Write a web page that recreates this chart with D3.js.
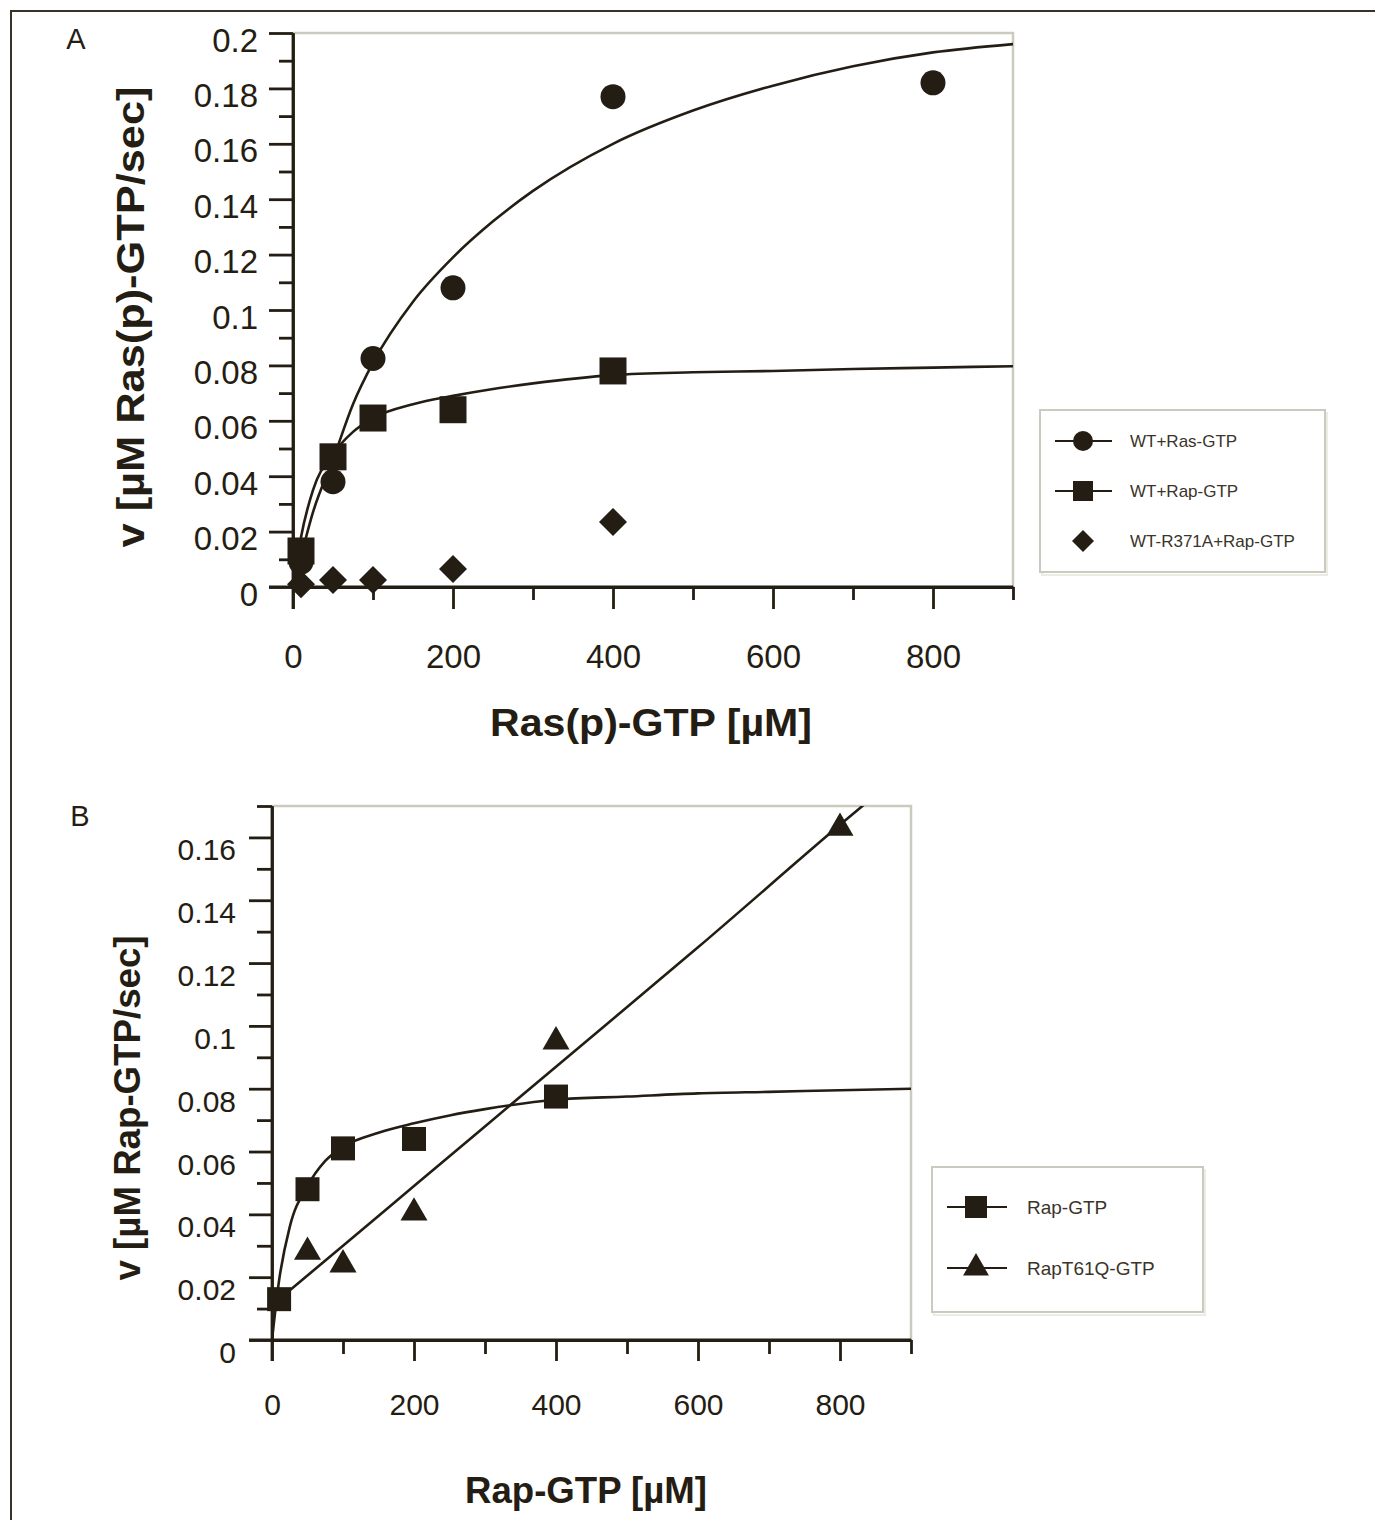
<!DOCTYPE html>
<html>
<head>
<meta charset="utf-8">
<script src="https://cdn.jsdelivr.net/npm/d3@7"></script>
<style>
  body { margin: 0; background: #fff; }
  text { font-family: "Liberation Sans", Arial, sans-serif; fill: #241d13; }
</style>
</head>
<body>
<div id="chart"></div>
<script>
// ---- panel A: Ras(p)-GTP substrate ----
var rasConc = [10, 50, 100, 200, 400, 800];
var wtRas = [0.009, 0.038, 0.0825, 0.108, 0.177, 0.182];
var rapConcA = [10, 50, 100, 200, 400];
var wtRap = [0.013, 0.047, 0.061, 0.064, 0.078];
var r371Conc = [10, 50, 100, 200, 400];
var wtR371A = [0.001, 0.0025, 0.0025, 0.0065, 0.0235];
// fitted curves
var fitXA = [0, 10, 25, 50, 75, 100, 150, 200, 250, 300, 400, 500, 600, 700, 800, 900];
var fitRas = [0, 0.011, 0.027, 0.046, 0.066, 0.081, 0.103, 0.119, 0.132, 0.143, 0.160, 0.172, 0.181, 0.188, 0.193, 0.196];
var fitRapA = [0, 0.018, 0.035, 0.048, 0.056, 0.061, 0.066, 0.069, 0.0715, 0.0735, 0.0765, 0.0775, 0.078, 0.0787, 0.0792, 0.0797];
var xMajorA = [0, 200, 400, 600, 800];
var xMinorA = [100, 300, 500, 700, 900];
var yMajorA = [0, 0.02, 0.04, 0.06, 0.08, 0.1, 0.12, 0.14, 0.16, 0.18, 0.2];
var yMinorA = [0.01, 0.03, 0.05, 0.07, 0.09, 0.11, 0.13, 0.15, 0.17, 0.19];

// ---- panel B: Rap-GTP substrate ----
var rapConcB = [10, 50, 100, 200, 400];
var rapGTP = [0.013, 0.048, 0.061, 0.064, 0.0775];
var t61Conc = [50, 100, 200, 400, 800];
var rapT61Q = [0.028, 0.024, 0.0405, 0.095, 0.163];
var fitXB = [0, 10, 25, 50, 75, 100, 150, 200, 250, 300, 400, 500, 600, 700, 800, 900];
var fitRapB = [0, 0.019, 0.036, 0.049, 0.057, 0.0615, 0.066, 0.069, 0.0715, 0.0735, 0.0765, 0.0775, 0.0785, 0.079, 0.0795, 0.080];
var fitT61X = [10, 100, 200, 400, 600, 800, 900];
var fitT61 = [0.013, 0.030, 0.049, 0.087, 0.125, 0.164, 0.183];
var xMajorB = [0, 200, 400, 600, 800];
var xMinorB = [100, 300, 500, 700, 900];
var yMajorB = [0, 0.02, 0.04, 0.06, 0.08, 0.1, 0.12, 0.14, 0.16];
var yMinorB = [0.01, 0.03, 0.05, 0.07, 0.09, 0.11, 0.13, 0.15, 0.17];

var ink = '#241d13';
var frameGray = '#cacabf';

var svg = d3.select('#chart').append('svg')
  .attr('width', 1375)
  .attr('height', 1520);

// outer figure border (left + top only visible)
svg.append('path')
  .attr('d', 'M11,1520 L11,11 L1375,11')
  .attr('fill', 'none')
  .attr('stroke', '#3a3228')
  .attr('stroke-width', 2);

function fmt(d) {
  return d === 0 ? '0' : String(+d.toFixed(2));
}

function zip(xs, ys) {
  return xs.map(function (x, i) { return [x, ys[i]]; });
}

function drawPanel(p) {
  var x = d3.scaleLinear().domain([0, 900]).range([p.left, p.right]);
  var y = d3.scaleLinear().domain([0, p.ymax]).range([p.bottom, p.top]);
  var g = svg.append('g');

  // light frame top + right
  g.append('path')
    .attr('d', 'M' + x(0) + ',' + y(p.ymax) + ' L' + x(900) + ',' + y(p.ymax) + ' L' + x(900) + ',' + y(0))
    .attr('fill', 'none')
    .attr('stroke', frameGray)
    .attr('stroke-width', 2.5);

  var clipId = 'clip' + p.name;
  svg.append('clipPath').attr('id', clipId)
    .append('rect')
    .attr('x', x(0)).attr('y', y(p.ymax))
    .attr('width', x(900) - x(0)).attr('height', y(0) - y(p.ymax));

  var line = d3.line()
    .x(function (d) { return x(d[0]); })
    .y(function (d) { return y(d[1]); })
    .curve(d3.curveMonotoneX);

  p.curves.forEach(function (c) {
    g.append('path')
      .datum(c)
      .attr('clip-path', 'url(#' + clipId + ')')
      .attr('d', line)
      .attr('fill', 'none')
      .attr('stroke', ink)
      .attr('stroke-width', 2.6);
  });

  // axes: minor ticks then major ticks with labels
  var xMin = g.append('g').attr('transform', 'translate(0,' + y(0) + ')')
    .call(d3.axisBottom(x).tickValues(p.xMinor).tickSize(p.minorLen).tickSizeOuter(0).tickFormat(''));
  var xMaj = g.append('g').attr('transform', 'translate(0,' + y(0) + ')')
    .call(d3.axisBottom(x).tickValues(p.xMajor).tickSize(p.majorLen).tickSizeOuter(0)
      .tickPadding(p.xPad).tickFormat(fmt));
  var yMin = g.append('g').attr('transform', 'translate(' + x(0) + ',0)')
    .call(d3.axisLeft(y).tickValues(p.yMinor).tickSize(p.minorLen + 1).tickSizeOuter(0).tickFormat(''));
  var yMaj = g.append('g').attr('transform', 'translate(' + x(0) + ',0)')
    .call(d3.axisLeft(y).tickValues(p.yMajor).tickSize(p.majorLen + 2).tickSizeOuter(0)
      .tickPadding(p.yPad).tickFormat(fmt));

  [xMin, xMaj, yMin, yMaj].forEach(function (a) {
    a.select('.domain').attr('stroke', ink).attr('stroke-width', 2.8);
    a.selectAll('.tick line').attr('stroke', ink).attr('stroke-width', 2.8);
    a.selectAll('text')
      .attr('fill', ink)
      .style('font-family', '"Liberation Sans", Arial, sans-serif')
      .style('font-size', p.tickFont + 'px');
  });
  // extend x axis to the left to meet the y 0 tick
  xMaj.select('.domain').attr('d', 'M' + (x(0) - p.majorLen - 2) + ',0H' + x(900));
  yMaj.select('.domain').attr('d', 'M0,' + y(p.ymax) + 'V' + (y(0) + p.majorLen));
  xMaj.selectAll('text').attr('dy', '0.71em');
  yMaj.selectAll('text').attr('dy', p.yDy);

  // markers
  p.series.forEach(function (s) {
    var data = zip(s.x, s.y);
    g.selectAll(null).data(data).enter().append('path')
      .attr('transform', function (d) {
        return 'translate(' + x(d[0]) + ',' + y(d[1]) + ')' + (s.rot ? ' rotate(45)' : '');
      })
      .attr('d', d3.symbol().type(s.type).size(s.size))
      .attr('fill', ink);
  });

  // axis titles
  g.append('text')
    .attr('x', p.xTitle[0]).attr('y', p.xTitle[1])
    .attr('text-anchor', 'middle')
    .attr('textLength', p.xTitle[2]).attr('lengthAdjust', 'spacingAndGlyphs')
    .style('font-weight', 'bold').style('font-size', p.xTitle[3] + 'px')
    .text(p.xLabel);
  g.append('text')
    .attr('transform', 'translate(' + p.yTitle[0] + ',' + p.yTitle[1] + ') rotate(-90)')
    .attr('text-anchor', 'middle')
    .attr('textLength', p.yTitle[2]).attr('lengthAdjust', 'spacingAndGlyphs')
    .style('font-weight', 'bold').style('font-size', p.yTitle[3] + 'px')
    .text(p.yLabel);

  // panel letter
  g.append('text')
    .attr('x', p.letter[0]).attr('y', p.letter[1])
    .attr('text-anchor', 'middle')
    .style('font-size', '29px')
    .text(p.name);

  // legend
  var L = p.legend;
  g.append('rect')
    .attr('x', L.x + 2).attr('y', L.y + 3).attr('width', L.w).attr('height', L.h)
    .attr('fill', 'none').attr('stroke', '#ecece4').attr('stroke-width', 2);
  g.append('rect')
    .attr('x', L.x).attr('y', L.y).attr('width', L.w).attr('height', L.h)
    .attr('fill', '#fff').attr('stroke', frameGray).attr('stroke-width', 2);
  L.items.forEach(function (it, i) {
    var cy = L.y + L.first + i * L.step;
    if (it.line) {
      g.append('line')
        .attr('x1', L.x + L.lineX[0]).attr('x2', L.x + L.lineX[1])
        .attr('y1', cy).attr('y2', cy)
        .attr('stroke', ink).attr('stroke-width', 2.2);
    }
    g.append('path')
      .attr('transform', 'translate(' + (L.x + L.markX) + ',' + cy + ')' + (it.rot ? ' rotate(45)' : ''))
      .attr('d', d3.symbol().type(it.type).size(it.size))
      .attr('fill', ink);
    g.append('text')
      .attr('x', L.x + L.textX).attr('y', cy + L.font * 0.36)
      .style('font-size', L.font + 'px')
      .style('fill', '#3a342a')
      .text(it.label);
  });
}

drawPanel({
  name: 'A', left: 293, right: 1013, top: 33, bottom: 587, ymax: 0.2,
  xMajor: xMajorA, xMinor: xMinorA, yMajor: yMajorA, yMinor: yMinorA,
  majorLen: 22, minorLen: 13, xPad: 36, yPad: 11, yDy: '0.55em', tickFont: 33,
  curves: [zip(fitXA, fitRas), zip(fitXA, fitRapA)],
  series: [
    { x: r371Conc, y: wtR371A, type: d3.symbolSquare, size: 392, rot: true },
    { x: rasConc, y: wtRas, type: d3.symbolCircle, size: Math.PI * 12.5 * 12.5 },
    { x: rapConcA, y: wtRap, type: d3.symbolSquare, size: 27 * 27 }
  ],
  xLabel: 'Ras(p)-GTP [\u00b5M]', xTitle: [651, 736, 322, 39],
  yLabel: 'v [\u00b5M Ras(p)-GTP/sec]', yTitle: [144, 317, 461, 38],
  letter: [76, 49],
  legend: {
    x: 1040, y: 410, w: 285, h: 162, first: 31, step: 50, lineX: [15, 72], markX: 43, textX: 90, font: 17,
    items: [
      { label: 'WT+Ras-GTP', type: d3.symbolCircle, size: Math.PI * 100, line: true },
      { label: 'WT+Rap-GTP', type: d3.symbolSquare, size: 400, line: true },
      { label: 'WT-R371A+Rap-GTP', type: d3.symbolSquare, size: 242, rot: true, line: false }
    ]
  }
});

drawPanel({
  name: 'B', left: 272, right: 911, top: 806, bottom: 1340, ymax: 0.17,
  xMajor: xMajorB, xMinor: xMinorB, yMajor: yMajorB, yMinor: yMinorB,
  majorLen: 21, minorLen: 14, xPad: 33, yPad: 13, yDy: '0.75em', tickFont: 30,
  curves: [zip(fitXB, fitRapB), zip(fitT61X, fitT61)],
  series: [
    { x: t61Conc, y: rapT61Q, type: d3.symbolTriangle, size: 316 },
    { x: rapConcB, y: rapGTP, type: d3.symbolSquare, size: 24 * 24 }
  ],
  xLabel: 'Rap-GTP [\u00b5M]', xTitle: [586, 1503, 242, 36],
  yLabel: 'v [\u00b5M Rap-GTP/sec]', yTitle: [140, 1108, 345, 36],
  letter: [80, 826],
  legend: {
    x: 932, y: 1167, w: 271, h: 145, first: 40, step: 61, lineX: [15, 75], markX: 44, textX: 95, font: 19,
    items: [
      { label: 'Rap-GTP', type: d3.symbolSquare, size: 22 * 22, line: true },
      { label: 'RapT61Q-GTP', type: d3.symbolTriangle, size: 290, line: true }
    ]
  }
});
</script>
</body>
</html>
